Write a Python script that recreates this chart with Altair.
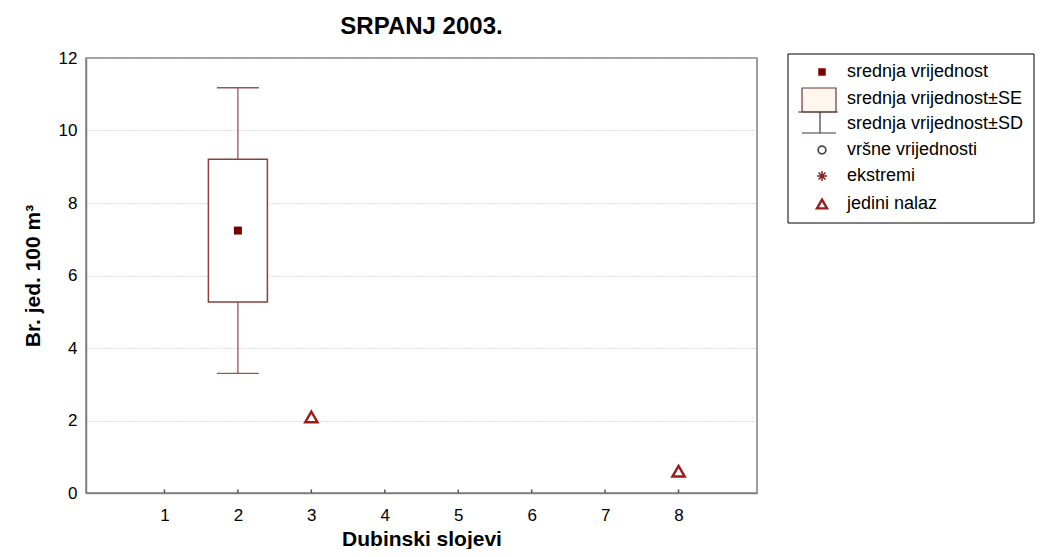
import altair as alt
import pandas as pd

# ---- data ----
box_cat = [2]
box_mean = [7.24]
box_se = [1.97]
box_sd = [3.94]

single_cat = [3, 8]
single_val = [2.1, 0.6]

x_ticks = [1, 2, 3, 4, 5, 6, 7, 8]
y_ticks = [0, 2, 4, 6, 8, 10, 12]

legend_labels = [
    "srednja vrijednost",
    "srednja vrijednost±SE",
    "srednja vrijednost±SD",
    "vršne vrijednosti",
    "ekstremi",
    "jedini nalaz",
]

FONT = "Liberation Sans, Arial, Helvetica, sans-serif"
BOX_C = "#8b3f3f"
WHISK_C = "#9a5555"
MEAN_C = "#7a0000"
TRI_C = "#9b1b1b"

box_df = pd.DataFrame({"x": box_cat, "mean": box_mean, "se": box_se, "sd": box_sd})
box_df["se_lo"] = box_df["mean"] - box_df["se"]
box_df["se_hi"] = box_df["mean"] + box_df["se"]
box_df["sd_lo"] = box_df["mean"] - box_df["sd"]
box_df["sd_hi"] = box_df["mean"] + box_df["sd"]

single_df = pd.DataFrame({"x": single_cat, "v": single_val})
tick_df = pd.DataFrame({"t": x_ticks})

xs = alt.Scale(domain=[0, 9], nice=False, zero=False)
ys = alt.Scale(domain=[0, 12], nice=False)

x_axis = alt.Axis(
    values=x_ticks, grid=False, ticks=False, labelPadding=14, format="d",
    titleX=335.5, titleY=52, titleAlign="center", titleBaseline="alphabetic",
)
y_axis = alt.Axis(
    values=y_ticks, grid=True, ticks=False, labelPadding=9, format="d",
    titleX=-53, titleY=217.5, titleAlign="center", titleBaseline="middle", titleAngle=270,
)
X_TITLE = "Dubinski slojevi"
Y_TITLE = "Br. jed. 100 m³"


def X(field):
    return alt.X(field, type="quantitative", scale=xs, axis=x_axis, title=X_TITLE)


def Y(field):
    return alt.Y(field, type="quantitative", scale=ys, axis=y_axis, title=Y_TITLE)


base = alt.Chart(box_df)

box = base.mark_bar(size=59, fill="white", stroke=BOX_C, strokeWidth=1.5, opacity=1).encode(
    x=X("x"), y=Y("se_lo"), y2="se_hi:Q"
)
whisk_lo = base.mark_rule(color=WHISK_C, strokeWidth=1.3).encode(
    x=X("x"), y=Y("sd_lo"), y2="se_lo:Q"
)
whisk_hi = base.mark_rule(color=WHISK_C, strokeWidth=1.3).encode(
    x=X("x"), y=Y("se_hi"), y2="sd_hi:Q"
)
cap_lo = base.mark_tick(orient="horizontal", size=42, thickness=1.3, color=WHISK_C, opacity=1).encode(
    x=X("x"), y=Y("sd_lo")
)
cap_hi = base.mark_tick(orient="horizontal", size=42, thickness=1.3, color=WHISK_C, opacity=1).encode(
    x=X("x"), y=Y("sd_hi")
)
mean_pt = base.mark_square(size=64, color=MEAN_C, opacity=1).encode(
    x=X("x"), y=Y("mean")
)

singles = alt.Chart(single_df).mark_point(
    shape="triangle-up", size=150, filled=False, stroke=TRI_C, strokeWidth=2.4, opacity=1
).encode(x=X("x"), y=Y("v"))

xtick_marks = alt.Chart(tick_df).mark_rule(color="#555555", strokeWidth=1.5).encode(
    x=X("t"), y=alt.datum(0), y2=alt.datum(0.1)
)

# ---- legend (drawn next to the plot) ----
one = pd.DataFrame({"k": [0]})
leg = []
leg.append(alt.Chart(one).mark_rect(fill="white", stroke="black", strokeWidth=1).encode(
    x=alt.value(702), x2=alt.value(948), y=alt.value(-4), y2=alt.value(165)))
leg.append(alt.Chart(one).mark_square(size=56, color=MEAN_C, opacity=1).encode(
    x=alt.value(736), y=alt.value(14)))
leg.append(alt.Chart(one).mark_rect(fill="#fff7ee", stroke="#6e3535", strokeWidth=1.2).encode(
    x=alt.value(716), x2=alt.value(750), y=alt.value(30), y2=alt.value(54)))
leg.append(alt.Chart(one).mark_rule(color="#4a3535", strokeWidth=1.2).encode(
    x=alt.value(712), x2=alt.value(752), y=alt.value(54)))
leg.append(alt.Chart(one).mark_rule(color="#4a3535", strokeWidth=1.2).encode(
    x=alt.value(734), y=alt.value(54), y2=alt.value(75)))
leg.append(alt.Chart(one).mark_rule(color="#4a3535", strokeWidth=1.2).encode(
    x=alt.value(716), x2=alt.value(750), y=alt.value(75)))
leg.append(alt.Chart(one).mark_point(shape="circle", size=60, filled=False, stroke="#444444", strokeWidth=1.7, opacity=1).encode(
    x=alt.value(736), y=alt.value(92)))
leg.append(alt.Chart(one).mark_point(
    shape="M-1,0L1,0M0,-1L0,1M-0.7,-0.7L0.7,0.7M-0.7,0.7L0.7,-0.7",
    size=100, filled=False, stroke="#8b2020", strokeWidth=1.5, opacity=1).encode(
    x=alt.value(736), y=alt.value(118)))
leg.append(alt.Chart(one).mark_point(shape="triangle-up", size=100, filled=False, stroke=TRI_C, strokeWidth=2.4, opacity=1).encode(
    x=alt.value(736), y=alt.value(146)))

row_y = [14, 41, 66, 92, 118, 146]
for lab, ry in zip(legend_labels, row_y):
    leg.append(alt.Chart(pd.DataFrame({"label": [lab]})).mark_text(
        align="left", baseline="middle", font=FONT, fontSize=18, color="black"
    ).encode(x=alt.value(761), y=alt.value(ry), text="label:N"))

chart = alt.layer(
    whisk_lo, whisk_hi, cap_lo, cap_hi, box, mean_pt, singles, xtick_marks, *leg
).properties(
    width=671, height=435,
    autosize=alt.AutoSizeParams(type="none"),
    padding={"left": 78, "top": 50, "right": 280, "bottom": 56},
    title=alt.TitleParams(
        "SRPANJ 2003.", fontSize=24, font=FONT, fontWeight="bold", anchor="middle",
        frame="group", baseline="alphabetic", offset=0, dy=9, color="black",
    ),
).configure_view(
    stroke="#808080", strokeWidth=1.5
).configure_axis(
    domainColor="#808080", domainWidth=1.5,
    gridColor="#bdbdbd", gridDash=[1, 2], gridWidth=1,
    labelFont=FONT, labelFontSize=17, labelColor="black",
    titleFont=FONT, titleFontSize=21, titleFontWeight="bold", titleColor="black",
)

chart.save("out.html", embed_options={"renderer": "svg", "actions": False})
